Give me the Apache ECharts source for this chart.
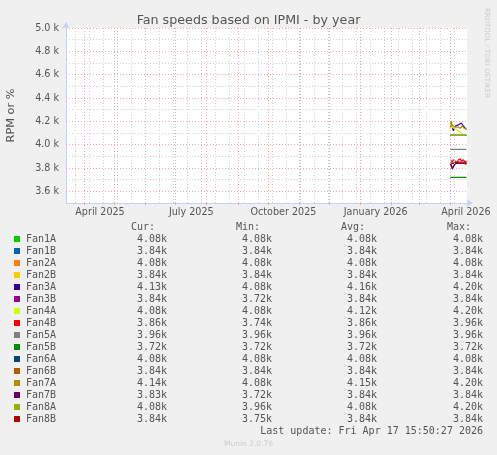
<!DOCTYPE html>
<html lang="en">
<head>
<meta charset="UTF-8">
<title>Fan speeds based on IPMI - by year</title>
<script src="https://cdn.jsdelivr.net/npm/echarts@6.0.0/dist/echarts.min.js"></script>
<style>
  html, body { margin: 0; padding: 0; background: #f0f0f0; }
  #main { width: 497px; height: 455px; }
</style>
</head>
<body>
<div id="main"></div>
<script>
// fans, munin colours and the legend numbers (k RPM)
var fanNames = ['Fan1A', 'Fan1B', 'Fan2A', 'Fan2B', 'Fan3A', 'Fan3B', 'Fan4A', 'Fan4B',
                'Fan5A', 'Fan5B', 'Fan6A', 'Fan6B', 'Fan7A', 'Fan7B', 'Fan8A', 'Fan8B'];
var fanColors = ['#00CC00', '#0066B3', '#FF8000', '#FFCC00', '#330099', '#990099', '#CCFF00', '#FF0000',
                 '#808080', '#008F00', '#00487D', '#B35A00', '#B38F00', '#6B006B', '#8FB300', '#B30000'];
var curValues = [4.08, 3.84, 4.08, 3.84, 4.13, 3.84, 4.08, 3.86, 3.96, 3.72, 4.08, 3.84, 4.14, 3.83, 4.08, 3.84];
var minValues = [4.08, 3.84, 4.08, 3.84, 4.08, 3.72, 4.08, 3.74, 3.96, 3.72, 4.08, 3.84, 4.08, 3.72, 3.96, 3.75];
var avgValues = [4.08, 3.84, 4.08, 3.84, 4.16, 3.84, 4.12, 3.86, 3.96, 3.72, 4.08, 3.84, 4.15, 3.84, 4.08, 3.84];
var maxValues = [4.08, 3.84, 4.08, 3.84, 4.20, 3.84, 4.20, 3.96, 3.96, 3.72, 4.08, 3.84, 4.20, 3.84, 4.20, 3.84];

// daily averages, only the last couple of weeks hold data
var days = ['2026-04-01', '2026-04-02', '2026-04-03', '2026-04-04', '2026-04-05', '2026-04-06',
            '2026-04-07', '2026-04-08', '2026-04-09', '2026-04-10', '2026-04-11', '2026-04-12',
            '2026-04-13', '2026-04-14', '2026-04-15', '2026-04-16', '2026-04-17'];
var fan1A = [4080, 4080, 4080, 4080, 4080, 4080, 4080, 4080, 4080, 4080, 4080, 4080, 4080, 4080, 4080, 4080, 4080];
var fan1B = [3840, 3840, 3840, 3840, 3840, 3840, 3840, 3840, 3840, 3840, 3840, 3840, 3840, 3840, 3840, 3840, 3840];
var fan2A = [4080, 4080, 4080, 4080, 4080, 4080, 4080, 4080, 4080, 4080, 4080, 4080, 4080, 4080, 4080, 4080, 4080];
var fan2B = [3840, 3840, 3840, 3840, 3840, 3840, 3840, 3840, 3840, 3840, 3840, 3840, 3840, 3840, 3840, 3840, 3840];
var fan3A = [4200, 4190, 4150, 4120, 4130, 4160, 4170, 4165, 4170, 4175, 4180, 4185, 4180, 4160, 4150, 4140, 4130];
var fan3B = [3840, 3830, 3800, 3790, 3820, 3840, 3850, 3850, 3840, 3850, 3850, 3850, 3850, 3850, 3850, 3850, 3840];
var fan4A = [4200, 4180, 4150, 4140, 4140, 4130, 4130, 4130, 4120, 4110, 4110, 4100, 4090, 4080, 4080, 4080, 4080];
var fan4B = [3870, 3860, 3850, 3870, 3880, 3860, 3870, 3850, 3870, 3860, 3880, 3860, 3850, 3870, 3860, 3850, 3860];
var fan5A = [3960, 3960, 3960, 3960, 3960, 3960, 3960, 3960, 3960, 3960, 3960, 3960, 3960, 3960, 3960, 3960, 3960];
var fan5B = [3720, 3720, 3720, 3720, 3720, 3720, 3720, 3720, 3720, 3720, 3720, 3720, 3720, 3720, 3720, 3720, 3720];
var fan6A = [4080, 4080, 4080, 4080, 4080, 4080, 4080, 4080, 4080, 4080, 4080, 4080, 4080, 4080, 4080, 4080, 4080];
var fan6B = [3840, 3840, 3840, 3840, 3840, 3840, 3840, 3840, 3840, 3840, 3840, 3840, 3840, 3840, 3840, 3840, 3840];
var fan7A = [4140, 4200, 4170, 4160, 4150, 4140, 4150, 4160, 4150, 4150, 4140, 4150, 4160, 4150, 4140, 4150, 4140];
var fan7B = [3840, 3820, 3790, 3810, 3830, 3840, 3840, 3840, 3840, 3850, 3840, 3840, 3840, 3840, 3840, 3840, 3830];
var fan8A = [4080, 4080, 4080, 4080, 4080, 4080, 4080, 4080, 4080, 4080, 4080, 4080, 4080, 4080, 4080, 4080, 4080];
var fan8B = [3840, 3830, 3840, 3850, 3840, 3840, 3850, 3840, 3840, 3850, 3840, 3840, 3840, 3850, 3840, 3840, 3840];
var fanData = [fan1A, fan1B, fan2A, fan2B, fan3A, fan3B, fan4A, fan4B,
               fan5A, fan5B, fan6A, fan6B, fan7A, fan7B, fan8A, fan8B];

// axis ticks
var yTicks = [3600, 3800, 4000, 4200, 4400, 4600, 4800, 5000];
var yMinorTicks = [3700, 3900, 4100, 4300, 4500, 4700, 4900];
var xTickLabels = ['April 2025', 'July 2025', 'October 2025', 'January 2026', 'April 2026'];
var xTickDates = ['2025-04-16 14:00', '2025-07-16 14:00', '2025-10-16 14:00', '2026-01-16 14:00', '2026-04-16 14:00'];
var lastUpdate = '2026-04-17 15:50:27';

function toTime(s) {
    var p = s.split(/[- :]/).map(Number);
    return Date.UTC(p[0], p[1] - 1, p[2], p[3] || 0, p[4] || 0, p[5] || 0);
}

var DAY = 86400000;
var tEnd = toTime(lastUpdate);
var tStart = tEnd - 400 * DAY;

// month starts = major grid, every second sunday = minor grid
var monthStarts = [];
for (var y = 2025; y <= 2026; y++) {
    for (var m = 0; m < 12; m++) {
        var t = Date.UTC(y, m, 1);
        if (t > tStart && t < tEnd) monthStarts.push(t);
    }
}
var minorLines = [];
for (var t2 = Date.UTC(2025, 2, 23); t2 < tEnd; t2 += 14 * DAY) minorLines.push(t2);

var xTickTimes = xTickDates.map(toTime);

var gridGray = '#cfcfcf';
var gridRed = '#f0a8a8';
var axisBlue = '#c8d0f4';
var textColor = '#555555';
var mono = '"DejaVu Sans Mono", monospace';
var sans = '"DejaVu Sans", sans-serif';

var series = [
    {
        name: 'minorgrid', type: 'line', data: [], silent: true, z: 1, animation: false,
        markLine: {
            silent: true, symbol: ['none', 'none'], label: { show: false }, animation: false,
            lineStyle: { color: gridGray, type: [1, 2], width: 1 },
            data: minorLines.map(function (t) { return { xAxis: t }; })
                .concat(yMinorTicks.map(function (v) { return { yAxis: v }; }))
        }
    },
    {
        name: 'majorgrid', type: 'line', data: [], silent: true, z: 1, animation: false,
        markLine: {
            silent: true, symbol: ['none', 'none'], label: { show: false }, animation: false,
            lineStyle: { color: gridRed, type: [1, 2], width: 1 },
            data: monthStarts.map(function (t) { return { xAxis: t }; })
                .concat(yTicks.map(function (v) { return { yAxis: v }; }))
        }
    }
];
fanNames.forEach(function (name, i) {
    series.push({
        name: name,
        type: 'line',
        z: 3,
        showSymbol: false,
        animation: false,
        color: fanColors[i],
        itemStyle: { color: fanColors[i] },
        lineStyle: { width: 1.2, color: fanColors[i] },
        data: days.map(function (d, k) { return [toTime(d), fanData[i][k]]; })
    });
});

// legend columns: Cur / Min / Avg / Max
var colRight = [167, 272, 377, 483];
var colHead = ['Cur:', 'Min:', 'Avg:', 'Max:'];
var colVals = [curValues, minValues, avgValues, maxValues];
var graphics = [];
colHead.forEach(function (h, c) {
    graphics.push({
        type: 'text', x: colRight[c] - 12, y: 227,
        style: { text: h, font: '10px ' + mono, fill: textColor, align: 'right', verticalAlign: 'middle' }
    });
    colVals[c].forEach(function (v, r) {
        graphics.push({
            type: 'text', x: colRight[c], y: 239 + r * 12,
            style: { text: v.toFixed(2) + 'k', font: '10px ' + mono, fill: textColor, align: 'right', verticalAlign: 'middle' }
        });
    });
});
graphics.push({
    type: 'text', x: 483, y: 431,
    style: { text: 'Last update: Fri Apr 17 15:50:27 2026', font: '10px ' + mono, fill: textColor, align: 'right', verticalAlign: 'middle' }
});
graphics.push({
    type: 'text', x: 248.5, y: 444,
    style: { text: 'Munin 2.0.76', font: '7.5px ' + sans, fill: '#cccccc', align: 'center', verticalAlign: 'middle' }
});
graphics.push({
    type: 'text', x: 487, y: 53, rotation: -Math.PI / 2,
    style: { text: 'RRDTOOL / TOBI OETIKER', font: '7px ' + sans, fill: '#cccccc', align: 'center', verticalAlign: 'middle' }
});

var myChart = echarts.init(document.getElementById('main'));

var option = {
    backgroundColor: '#f0f0f0',
    animation: false,
    title: {
        text: 'Fan speeds based on IPMI - by year',
        left: 'center',
        top: 9,
        textStyle: { fontFamily: sans, fontSize: 12.7, fontWeight: 'normal', color: textColor }
    },
    grid: {
        left: 66, right: 30, top: 28, bottom: 252,
        outerBoundsMode: 'none',
        containLabel: false,
        show: true, backgroundColor: '#ffffff', borderWidth: 0
    },
    legend: {
        orient: 'vertical',
        left: 14,
        top: 233,
        padding: 0,
        itemGap: 0,
        itemWidth: 6,
        itemHeight: 6,
        icon: 'rect',
        selectedMode: false,
        data: fanNames,
        textStyle: { fontFamily: mono, fontSize: 10, lineHeight: 12, color: textColor, padding: [0, 0, 0, 1] }
    },
    xAxis: {
        type: 'value',
        min: tStart,
        max: tEnd,
        splitLine: { show: false },
        axisLine: {
            show: true, lineStyle: { color: axisBlue, width: 1 },
            symbol: ['none', 'arrow'], symbolSize: [6, 7], symbolOffset: [0, 6]
        },
        axisTick: {
            show: true, length: 2, customValues: monthStarts,
            lineStyle: { color: gridRed }
        },
        axisLabel: {
            customValues: xTickTimes,
            margin: 4,
            fontFamily: sans,
            fontSize: 9.6,
            color: textColor,
            formatter: function (v) {
                var best = 0;
                for (var i = 1; i < xTickTimes.length; i++) {
                    if (Math.abs(xTickTimes[i] - v) < Math.abs(xTickTimes[best] - v)) best = i;
                }
                return xTickLabels[best];
            }
        }
    },
    yAxis: {
        type: 'value',
        min: 3500,
        max: 5000,
        name: 'RPM or %',
        nameLocation: 'middle',
        nameGap: 49,
        nameTextStyle: { fontFamily: sans, fontSize: 11.3, color: textColor },
        splitLine: { show: false },
        axisLine: {
            show: true, lineStyle: { color: axisBlue, width: 1 },
            symbol: ['none', 'arrow'], symbolSize: [6, 7], symbolOffset: [0, 6]
        },
        axisTick: { show: false },
        axisLabel: {
            customValues: yTicks,
            margin: 7,
            fontFamily: sans,
            fontSize: 9.6,
            color: textColor,
            formatter: function (v) { return (v / 1000).toFixed(1) + ' k'; }
        }
    },
    graphic: graphics,
    series: series
};

myChart.setOption(option);
</script>
</body>
</html>
